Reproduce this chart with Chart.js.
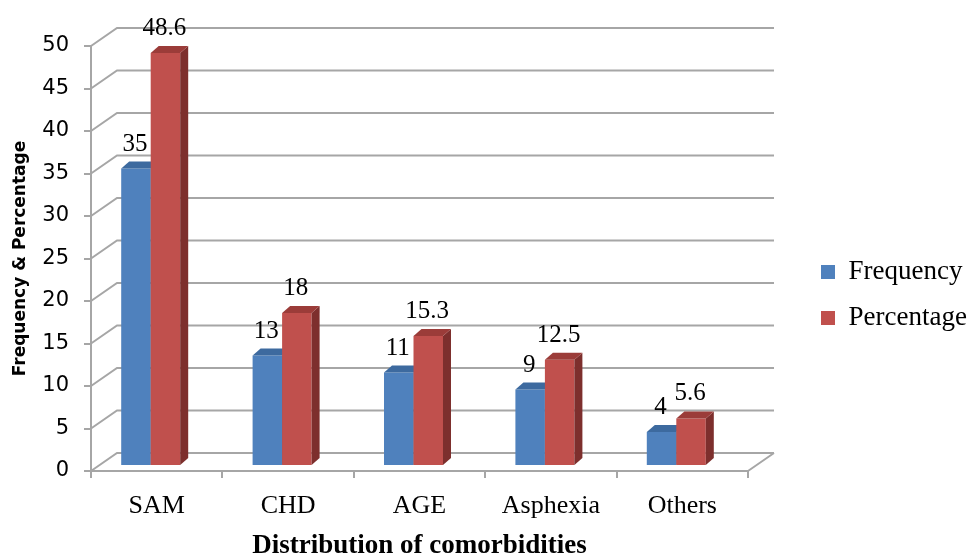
<!DOCTYPE html>
<html>
<head>
<meta charset="utf-8">
<script src="https://cdn.jsdelivr.net/npm/chart.js@4.4.1/dist/chart.umd.min.js"></script>
<style>
    html, body { margin: 0; padding: 0; background: #ffffff; }
    #wrap { position: relative; width: 970px; height: 556px; }
</style>
</head>
<body>
<div id="wrap"><canvas id="comorbidityChart"></canvas></div>
<script>
const categories = ['SAM', 'CHD', 'AGE', 'Asphexia', 'Others'];
const frequency = [35, 13, 11, 9, 4];
const percentage = [48.6, 18, 15.3, 12.5, 5.6];
const yMin = 0;
const yMax = 50;
const yStep = 5;

// oblique projection used for the walls and the bar solids
const WALL_DX = 26;
const WALL_DY = 18;
const BAR_SHIFT_X = -6;
const BAR_SHIFT_Y = -5;
const BAR_DX = 8;
const BAR_DY = 7;
const LINE_GREY = '#a6a6a6';

const serif = '"Liberation Serif", "Times New Roman", serif';
const sans = '"DejaVu Sans", Verdana, sans-serif';

function poly(ctx, pts, color) {
    ctx.beginPath();
    ctx.moveTo(pts[0][0], pts[0][1]);
    for (let i = 1; i < pts.length; i++) {
        ctx.lineTo(pts[i][0], pts[i][1]);
    }
    ctx.closePath();
    ctx.fillStyle = color;
    ctx.fill();
}

const box3d = {
    id: 'box3d',
    beforeDatasetsDraw(chart) {
        const { ctx, chartArea, scales } = chart;
        const y = scales.y;

        // back wall gridlines with their slanted side-wall segments
        ctx.save();
        ctx.strokeStyle = LINE_GREY;
        ctx.lineWidth = 2;
        ctx.beginPath();
        y.ticks.forEach((t) => {
            const py = y.getPixelForValue(t.value);
            ctx.moveTo(chartArea.left, py);
            ctx.lineTo(chartArea.left + WALL_DX, py - WALL_DY);
            ctx.lineTo(chartArea.right + WALL_DX, py - WALL_DY);
        });
        ctx.moveTo(chartArea.right, chartArea.bottom);
        ctx.lineTo(chartArea.right + WALL_DX, chartArea.bottom - WALL_DY);
        ctx.stroke();
        ctx.restore();

        // bars as solids, first series first so the second one sits on top
        ctx.save();
        ctx.translate(BAR_SHIFT_X, BAR_SHIFT_Y);
        chart.data.datasets.forEach((ds, i) => {
            chart.getDatasetMeta(i).data.forEach((bar) => {
                const { x, y: top, base, width } = bar.getProps(['x', 'y', 'base', 'width'], true);
                const l = x - width / 2;
                const r = x + width / 2;
                poly(ctx, [[l, top], [r, top], [r, base], [l, base]], ds.backgroundColor);
                poly(ctx, [[r, top], [r + BAR_DX, top - BAR_DY], [r + BAR_DX, base - BAR_DY], [r, base]], ds.sideColor);
                poly(ctx, [[l, top], [l + BAR_DX, top - BAR_DY], [r + BAR_DX, top - BAR_DY], [r, top]], ds.topColor);
            });
        });
        ctx.restore();
        return false;
    },
    afterDraw(chart) {
        const ctx = chart.ctx;
        ctx.save();
        ctx.font = '25px ' + serif;
        ctx.fillStyle = '#000000';
        ctx.textAlign = 'center';
        ctx.textBaseline = 'alphabetic';
        chart.data.datasets.forEach((ds, i) => {
            chart.getDatasetMeta(i).data.forEach((bar, j) => {
                const { x, y } = bar.getProps(['x', 'y'], true);
                ctx.fillText(String(ds.data[j]), x + BAR_SHIFT_X - 1, y + BAR_SHIFT_Y - 18);
            });
        });
        ctx.restore();
    },
};

new Chart(document.getElementById('comorbidityChart'), {
    type: 'bar',
    data: {
        labels: categories,
        datasets: [
            {
                label: 'Frequency',
                data: frequency,
                backgroundColor: '#4f81bd',
                sideColor: '#375f8f',
                topColor: '#3d6a9f',
                borderWidth: 0,
            },
            {
                label: 'Percentage',
                data: percentage,
                backgroundColor: '#c0504d',
                sideColor: '#7d2f2d',
                topColor: '#9b3c39',
                borderWidth: 0,
            },
        ],
    },
    options: {
        responsive: true,
        maintainAspectRatio: false,
        animation: false,
        datasets: {
            bar: {
                categoryPercentage: 0.449,
                barPercentage: 1,
            },
        },
        layout: {
            padding: { top: 46, bottom: 12, left: 0, right: 0 },
        },
        plugins: {
            legend: {
                position: 'right',
                maxWidth: 168,
                labels: {
                    color: '#000000',
                    boxWidth: 14,
                    boxHeight: 14,
                    padding: 19,
                    font: { family: serif, size: 27 },
                },
            },
            tooltip: { enabled: false },
        },
        scales: {
            x: {
                afterFit: (s) => { s.height = 73; },
                grid: {
                    display: true,
                    drawOnChartArea: false,
                    tickLength: 7,
                    color: LINE_GREY,
                    lineWidth: 2,
                },
                border: { display: true, color: LINE_GREY, width: 2 },
                ticks: {
                    color: '#000000',
                    padding: 13,
                    font: { family: serif, size: 26 },
                },
                title: {
                    display: true,
                    text: 'Distribution of comorbidities',
                    color: '#000000',
                    font: { family: serif, size: 27, weight: 'bold', lineHeight: 1 },
                    padding: { top: 0, bottom: -16 },
                },
            },
            y: {
                min: yMin,
                max: yMax,
                afterFit: (s) => { s.width = 91; },
                grid: {
                    display: true,
                    drawOnChartArea: false,
                    tickLength: 7,
                    color: LINE_GREY,
                    lineWidth: 2,
                },
                border: { display: true, color: LINE_GREY, width: 2 },
                ticks: {
                    stepSize: yStep,
                    color: '#000000',
                    padding: 15,
                    font: { family: sans, size: 21 },
                },
                title: {
                    display: true,
                    text: 'Frequency & Percentage',
                    color: '#000000',
                    font: { family: sans, size: 17, weight: 'bold' },
                    padding: { top: 10, bottom: 0 },
                },
            },
            // keeps a gap between the plot and the legend
            gap: {
                type: 'linear',
                position: 'right',
                display: true,
                afterFit: (s) => { s.width = 54; },
                grid: { display: false },
                border: { display: false },
                ticks: { display: false },
            },
        },
    },
    plugins: [box3d],
});
</script>
</body>
</html>
